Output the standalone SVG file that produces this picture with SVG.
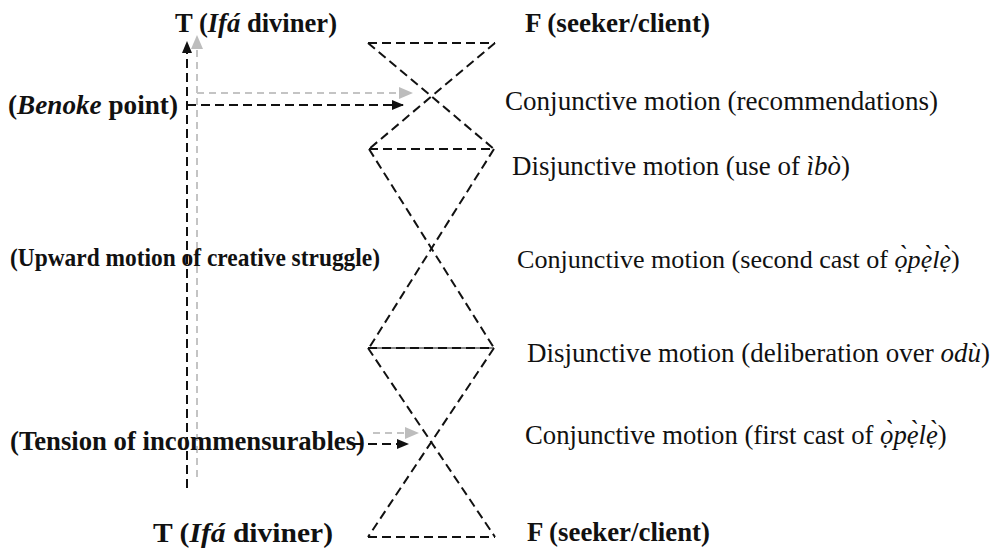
<svg xmlns="http://www.w3.org/2000/svg" width="992" height="552" viewBox="0 0 992 552">
<style>
  text { font-family: "Liberation Serif", "Times New Roman", serif; fill: #111; }
  .b { font-weight: bold; font-size: 27px; }
  .r { font-size: 26.8px; }
  .i { font-style: italic; }
  .blk { stroke: #111; stroke-width: 2; stroke-dasharray: 9 5; fill: none; }
  .gry { stroke: #c4c4c4; stroke-width: 2; stroke-dasharray: 7 5; fill: none; }
  .thin { stroke: #111; stroke-width: 1; fill: none; }
</style>
<defs>
  <marker id="ab" markerUnits="userSpaceOnUse" markerWidth="12" markerHeight="10" refX="11" refY="5" orient="auto">
    <path d="M0,0 L12,5 L0,10 z" fill="#111"/>
  </marker>
  <marker id="ag" markerUnits="userSpaceOnUse" markerWidth="14" markerHeight="12" refX="13" refY="6" orient="auto">
    <path d="M0,0 L14,6 L0,12 z" fill="#bdbdbd"/>
  </marker>
</defs>
<rect width="992" height="552" fill="#fff"/>

<g id="connectors">
  <line class="blk" x1="368" y1="43" x2="495" y2="43"/>
  <line class="blk" x1="368" y1="43" x2="494" y2="149"/>
  <line class="blk" x1="495" y1="43" x2="369" y2="149"/>
  <line class="blk" x1="369" y1="149" x2="494" y2="149"/>
  <line class="blk" x1="369" y1="149" x2="494" y2="348"/>
  <line class="blk" x1="494" y1="149" x2="369" y2="348"/>
  <line class="thin" x1="368" y1="348" x2="494" y2="348"/>
  <line class="blk" x1="368" y1="348" x2="494" y2="348"/>
  <line class="blk" x1="368" y1="348" x2="495" y2="537"/>
  <line class="blk" x1="494" y1="348" x2="368" y2="537"/>
  <line class="blk" x1="368" y1="537" x2="495" y2="537"/>
  <line class="gry" x1="197" y1="477" x2="197" y2="36" marker-end="url(#ag)"/>
  <line class="blk" x1="187" y1="488" x2="187" y2="42" marker-end="url(#ab)"/>
  <line class="gry" x1="197" y1="93" x2="412" y2="93" marker-end="url(#ag)"/>
  <line class="blk" x1="187" y1="105" x2="403" y2="105" marker-end="url(#ab)"/>
  <line class="gry" x1="373" y1="433" x2="418" y2="433" marker-end="url(#ag)"/>
  <line class="blk" x1="354" y1="444" x2="408" y2="444" marker-end="url(#ab)"/>
</g>

<g id="t-top"><text class="b" x="175" y="32" textLength="162" lengthAdjust="spacingAndGlyphs">T (<tspan class="i">Ifá</tspan> diviner)</text></g>
<g id="f-top"><text class="b" x="525" y="32" textLength="185" lengthAdjust="spacingAndGlyphs">F (seeker/client)</text></g>
<g id="benoke"><text class="b" x="8" y="114" textLength="170" lengthAdjust="spacingAndGlyphs">(<tspan class="i">Benoke</tspan> point)</text></g>
<g id="conj-rec"><text class="r" x="505" y="110" textLength="433" lengthAdjust="spacingAndGlyphs">Conjunctive motion (recommendations)</text></g>
<g id="disj-ibo"><text class="r" x="512" y="175" textLength="338" lengthAdjust="spacingAndGlyphs">Disjunctive motion (use of <tspan class="i">ìbò</tspan>)</text></g>
<g id="upward"><text class="b" x="10" y="266" style="font-size:25px" textLength="370" lengthAdjust="spacingAndGlyphs">(Upward motion of creative struggle)</text></g>
<g id="conj-second"><text class="r" x="517" y="268" style="font-size:26.1px">Conjunctive motion (second cast of <tspan class="i">ọ̀pẹ̀lẹ̀</tspan>)</text></g>
<g id="disj-odu"><text class="r" x="527" y="362" textLength="463" lengthAdjust="spacingAndGlyphs">Disjunctive motion (deliberation over <tspan class="i">odù</tspan>)</text></g>
<g id="tension"><text class="b" x="10" y="450" textLength="355" lengthAdjust="spacingAndGlyphs">(Tension of incommensurables)</text></g>
<g id="conj-first"><text class="r" x="525" y="444" style="font-size:26.7px">Conjunctive motion (first cast of <tspan class="i">ọ̀pẹ̀lẹ̀</tspan>)</text></g>
<g id="t-bottom"><text class="b" x="153" y="542" style="font-size:28px" textLength="180" lengthAdjust="spacingAndGlyphs">T (<tspan class="i">Ifá</tspan> diviner)</text></g>
<g id="f-bottom"><text class="b" x="527" y="541" textLength="183" lengthAdjust="spacingAndGlyphs">F (seeker/client)</text></g>
</svg>
